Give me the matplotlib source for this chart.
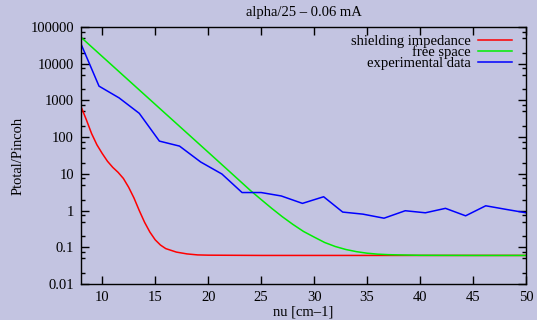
import matplotlib
matplotlib.use("Agg")
from matplotlib import pyplot as plt

# shielding impedance (red)
red_x = [8.0, 8.5, 9.0, 9.5, 10.0, 10.5, 11.0, 11.5, 12.0, 12.5, 13.0, 13.5, 14.0,
         14.5, 15.0, 15.5, 16.0, 17.0, 18.0, 19.0, 20.0, 25.0, 30.0, 40.0, 50.0]
red_y = [680, 300, 125, 62, 36, 22, 15, 11, 7.5, 4.3, 2.2, 1.0, 0.48,
         0.26, 0.16, 0.115, 0.092, 0.074, 0.066, 0.062, 0.061, 0.06, 0.06, 0.06, 0.06]

# free space (green)
green_x = [8, 12, 16, 20, 22, 24, 25, 26, 27, 28, 29, 30, 31, 32, 33, 34, 35, 36,
           37, 38, 40, 45, 50]
green_y = [52500, 4750, 430, 39, 11.7, 3.5, 2.0, 1.15, 0.68, 0.42, 0.27, 0.19,
           0.135, 0.105, 0.087, 0.076, 0.069, 0.065, 0.063, 0.062, 0.0605, 0.06, 0.06]

# experimental data (blue)
blue_x = [8.0, 9.7, 11.6, 13.5, 15.4, 17.3, 19.3, 21.3, 23.2, 25.0, 26.9, 28.9,
          30.9, 32.7, 34.6, 36.6, 38.6, 40.5, 42.4, 44.3, 46.2, 48.1, 50.0]
blue_y = [34500, 2450, 1170, 445, 78, 57, 21, 9.9, 3.1, 3.1, 2.5, 1.57,
          2.38, 0.91, 0.80, 0.62, 0.99, 0.87, 1.15, 0.72, 1.35, 1.08, 0.87]

ytick_vals = [0.01, 0.1, 1, 10, 100, 1000, 10000, 100000]
ytick_text = ["0.01", "0.1", "1", "10", "100", "1000", "10000", "100000"]
xtick_vals = [10, 15, 20, 25, 30, 35, 40, 45, 50]

bg = "#c3c4e1"
plt.rcParams["font.family"] = ["Liberation Serif", "DejaVu Serif"]
plt.rcParams["font.size"] = 10.5

fig = plt.figure(figsize=(5.37, 3.2), dpi=100, facecolor=bg)
ax = fig.add_axes([81 / 537, 36 / 320, 445 / 537, 257 / 320], facecolor=bg)

ax.plot(red_x, red_y, color="#ff0000", lw=1.1, label="shielding impedance")
ax.plot(green_x, green_y, color="#00ee00", lw=1.1, label="free space")
ax.plot(blue_x, blue_y, color="#0000ff", lw=1.1, label="experimental data")

ax.set_yscale("log")
ax.set_xlim(8, 50)
ax.set_ylim(0.01, 100000)
ax.set_yticks(ytick_vals, ytick_text)
ax.yaxis.set_minor_locator(matplotlib.ticker.LogLocator(subs=(2, 5, 7.5)))
ax.yaxis.set_minor_formatter(matplotlib.ticker.NullFormatter())
ax.set_xticks(xtick_vals)
ax.tick_params(which="both", direction="in", top=True, right=True, width=1)
ax.tick_params(which="major", length=6, pad=5)
ax.tick_params(which="minor", length=3)
ax.tick_params(axis="x", which="minor", bottom=False, top=False)
for s in ax.spines.values():
    s.set_linewidth(1.0)

ax.set_title("alpha/25 – 0.06 mA", fontsize=10.5, pad=8)
ax.set_xlabel("nu [cm–1]", labelpad=1)
ax.set_ylabel("Ptotal/Pincoh", labelpad=4)

ax.legend(loc="upper right", bbox_to_anchor=(0.968, 0.97), frameon=False,
          markerfirst=False, borderpad=0, borderaxespad=0, handlelength=2.3,
          handletextpad=0.5, labelspacing=-0.16, fontsize=10.5)

fig.savefig("out.png", dpi=100, facecolor=bg)
